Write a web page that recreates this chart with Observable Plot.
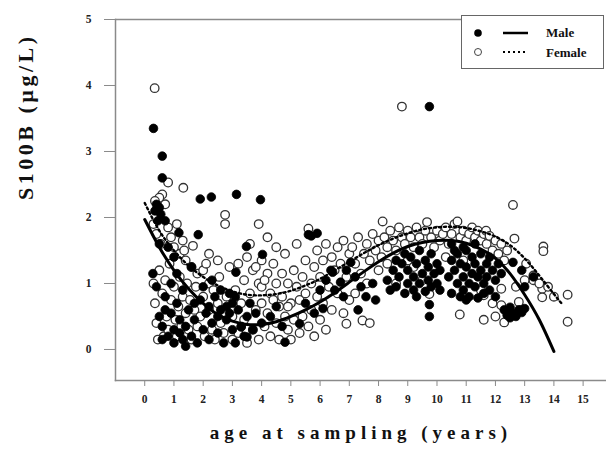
<!DOCTYPE html>
<html><head><meta charset="utf-8">
<script src="https://cdn.jsdelivr.net/npm/d3@7"></script>
<script src="https://cdn.jsdelivr.net/npm/@observablehq/plot@0.6"></script>
<style>
body{margin:0;background:#fff;}
#wrap{position:relative;width:606px;height:452px;}
#legend{position:absolute;left:461px;top:15px;width:143px;height:54px;border:1.5px solid #666;box-sizing:border-box;background:#fff;}
</style></head><body><div id="wrap"></div>
<script>
const xTicks = [0,1,2,3,4,5,6,7,8,9,10,11,12,13,14,15];
const yTicks = [0,1,2,3,4,5];
const seriesNames = ["Male","Female"];

const maleSamples = [
[0.3,3.35],[0.6,2.93],[0.6,2.6],[0.4,2.2],[0.5,2.15],[0.35,2.1],[0.55,2.05],[0.45,1.95],[0.7,1.95],[1.9,2.28],[2.28,2.31],[3.14,2.35],[3.96,2.27],[1.17,1.77],[1.83,1.74],[3.48,1.56],[4.03,1.44],[0.28,1.15],[3.12,1.17],[0.5,1.6],[0.8,1.55],[1.0,1.4],
[0.4,0.95],[0.5,0.5],[0.6,0.35],[0.7,0.8],[0.8,0.2],[0.9,0.55],[1.0,0.3],[1.0,0.1],[1.1,0.7],[1.2,0.45],[1.3,0.15],[1.3,0.9],[1.4,0.35],[1.5,0.6],[1.6,0.2],[1.7,0.45],[1.8,0.1],[1.9,0.75],[2.0,0.3],[2.1,0.55],[2.2,0.15],[2.3,0.4],[2.4,0.8],[2.5,0.25],[2.6,0.6],[2.7,0.1],[2.8,0.45],[2.9,0.85],[3.0,0.3],[3.1,0.1],[3.2,0.6],[3.3,0.35],[3.4,0.2],[3.5,0.5],[3.6,0.7],[3.7,0.3],[3.8,0.55],[4.0,0.4],[4.3,0.5],[4.5,0.65],[4.7,0.35],[4.8,0.11],[5.3,0.39],[3.3,0.34],[3.5,0.19],[0.7,0.6],[0.9,1.0],[1.1,1.15],[1.6,1.25],[2.0,0.95],[2.3,1.05],[2.6,0.9],[1.4,0.05],[2.9,0.55],[3.0,0.7],[2.8,0.65],[3.1,0.8],[1.2,0.25],[0.6,0.15],[1.7,0.7],[2.2,0.65],[2.5,0.5],
[5.6,1.74],[5.9,1.76],[5.7,1.72],[6.37,1.2],[6.7,1.02],[6.8,0.8],[7.57,0.8],[6.43,1.17],[7.05,1.32],[6.0,0.9],[6.2,1.05],[5.5,0.7],[5.8,0.55],[6.5,0.9],[7.2,1.1],[7.4,0.95],[7.8,1.0],[7.9,0.75],[6.9,1.2],[7.3,0.6],[6.1,0.62],
[8.3,1.05],[8.4,0.9],[8.5,1.2],[8.6,0.95],[8.7,1.1],[8.8,1.3],[8.9,0.85],[9.0,1.0],[9.0,1.2],[9.1,1.4],[9.2,0.9],[9.2,1.1],[9.3,1.3],[9.4,1.0],[9.4,1.5],[9.5,1.15],[9.6,0.88],[9.6,1.35],[9.7,1.05],[9.7,1.25],[9.8,0.95],[9.8,1.45],[9.9,1.15],[10.0,1.3],[10.0,1.0],[10.1,1.2],[8.6,1.35],[8.9,1.45],[9.3,0.8],[9.74,0.68],[9.74,0.5],[10.1,0.9],[9.74,3.68],
[10.4,1.1],[10.5,1.35],[10.5,0.85],[10.6,1.2],[10.7,1.0],[10.7,1.45],[10.8,0.8],[10.8,1.3],[10.9,1.1],[10.9,0.9],[11.0,1.25],[11.0,1.5],[11.1,1.0],[11.1,0.8],[11.2,1.15],[11.2,1.4],[11.3,0.95],[11.3,1.3],[11.4,1.1],[11.4,0.78],[11.5,1.2],[11.5,1.45],[11.6,1.0],[11.6,0.85],[11.7,1.3],[11.7,1.1],[11.8,0.9],[11.8,1.4],[11.9,1.2],[12.0,1.05],[12.0,0.8],[12.1,1.3],[10.6,1.5],[10.9,1.55],[11.3,1.6],[12.2,1.15],[11.0,0.75],[10.5,1.6],
[12.3,0.6],[12.4,0.52],[12.5,0.64],[12.6,0.55],[12.7,0.5],[12.8,0.6],[12.9,0.56],[13.0,0.62],[12.5,0.48],[12.6,1.32],[13.3,1.1],[12.9,1.2],[13.0,0.95]
];

const femaleSamples = [
[0.34,3.96],[1.32,2.45],[0.8,2.53],[0.6,2.35],[0.5,2.3],[0.35,2.25],[0.7,2.2],[2.75,2.04],[2.75,1.9],[1.65,1.57],[0.3,1.9],[0.4,1.75],[0.55,1.6],[0.9,1.7],[1.0,1.55],[1.2,1.45],[1.4,1.35],[1.6,1.25],[1.8,1.15],[2.0,1.2],[2.2,1.0],[0.8,1.85],[1.1,1.9],[1.3,1.65],
[0.3,1.0],[0.35,0.7],[0.4,0.4],[0.5,1.2],[0.6,0.85],[0.65,0.2],[0.7,1.05],[0.75,0.5],[0.8,0.3],[0.85,1.3],[0.9,0.75],[1.0,0.95],[1.05,0.45],[1.1,0.2],[1.15,0.65],[1.2,1.1],[1.25,0.35],[1.3,0.8],[1.4,0.55],[1.45,1.0],[1.5,0.3],[1.55,0.75],[1.6,0.15],[1.7,0.6],[1.75,0.95],[1.8,0.35],[1.9,0.5],[2.0,0.8],[2.05,0.2],[2.1,1.3],[2.2,0.6],[2.3,0.3],[2.35,0.9],[2.4,0.15],[2.5,0.7],[2.55,1.1],[2.6,0.4],[2.7,0.25],[2.8,0.8],[2.9,1.25],[3.0,0.5],[3.0,0.15],[2.2,1.45],[2.5,1.35],[0.45,0.15],[1.35,1.5],
[3.1,0.9],[3.2,1.3],[3.2,0.25],[3.3,0.7],[3.4,1.05],[3.4,0.45],[3.5,1.4],[3.5,0.1],[3.6,0.85],[3.7,0.3],[3.7,1.2],[3.8,0.6],[3.9,1.0],[3.9,0.15],[4.0,1.35],[4.0,0.7],[4.1,0.35],[4.2,1.15],[4.2,0.55],[4.3,0.85],[4.3,0.2],[4.4,1.3],[4.5,0.4],[4.5,1.0],[4.6,0.65],[4.6,0.15],[4.7,1.15],[4.7,0.8],[4.8,0.5],[4.8,1.45],[4.9,0.3],[4.9,1.0],[5.0,0.7],[5.0,0.15],[5.1,1.2],[5.1,0.45],[5.2,0.95],[5.2,1.6],[5.3,0.25],[5.3,0.75],[5.4,1.1],[5.4,0.5],[5.5,1.35],[5.5,0.85],[5.6,1.83],[5.6,0.35],[5.7,1.0],[5.7,0.6],[5.8,1.25],[5.8,0.2],[5.9,0.8],[5.9,1.5],[6.0,1.1],[6.0,0.45],[6.1,1.35],[6.1,0.7],[6.2,0.3],[6.2,1.6],[6.3,0.95],[6.4,1.4],[6.4,0.6],[6.5,1.2],[6.6,1.55],[6.6,0.85],[6.7,1.3],[6.8,1.65],[6.9,0.39],[6.9,1.1],[7.0,1.45],[3.6,1.6],[4.2,1.7],[3.9,1.9],[4.5,1.55],[4.0,0.95],[4.4,0.75],[4.9,0.65],[3.8,1.25],[4.1,1.05],
[7.1,1.55],[7.2,1.3],[7.3,1.7],[7.45,0.44],[7.5,1.45],[7.6,1.6],[7.7,0.4],[7.7,1.35],[7.8,1.75],[7.9,1.5],[8.0,1.65],[8.14,1.94],[8.1,1.4],[8.2,1.7],[8.3,1.55],[8.4,1.8],[8.5,1.65],[8.6,1.5],[8.7,1.85],[8.8,3.68],[8.8,1.7],[8.9,1.6],[9.0,1.8],[9.1,1.7],[9.2,1.55],[9.3,1.85],[9.4,1.7],[9.5,1.6],[9.6,1.8],[9.66,1.93],[9.74,0.84],[9.8,1.7],[9.9,1.55],[10.0,1.8],[10.1,1.65],[7.4,1.15],[7.6,1.0],[8.0,1.2],[8.3,1.3],[8.6,1.0],[9.0,1.35],[9.2,1.25],[9.5,1.05],[7.2,0.85],[7.0,0.75],[6.8,0.55],
[10.2,1.75],[10.3,1.85],[10.4,1.6],[10.5,1.75],[10.6,1.9],[10.7,1.94],[10.78,0.53],[10.8,1.7],[10.9,1.8],[11.0,1.65],[11.1,1.75],[11.2,1.85],[11.3,1.7],[11.4,1.8],[11.5,1.65],[11.6,0.45],[11.6,1.75],[11.7,1.6],[11.68,1.8],[11.8,1.72],[11.9,1.5],[12.0,1.65],[12.1,1.45],[12.2,1.6],[12.3,1.35],[12.4,1.5],[12.6,2.19],[11.5,0.9],[11.9,0.7],[10.3,1.4],[10.9,1.35],[12.0,0.5],[11.6,0.82],[12.2,0.92],[12.2,0.67],[12.3,0.41],
[12.65,1.68],[13.05,1.3],[13.3,1.12],[13.3,1.05],[12.8,0.72],[12.7,0.95],[13.0,1.05],[13.6,0.92],[13.6,0.79],[13.5,1.0],[13.64,1.56],[13.64,1.49],[13.8,0.95],[14.0,0.8],[14.47,0.83],[14.47,0.42],[12.9,0.6]
];

const maleCurve = [[0,1.97],[0.5,1.55],[1,1.2],[1.5,0.92],[2,0.7],[2.5,0.53],[3,0.43],[3.5,0.38],[4,0.38],[4.5,0.42],[5,0.5],[5.5,0.6],[6,0.72],[6.5,0.86],[7,1.02],[7.5,1.18],[8,1.33],[8.5,1.46],[9,1.56],[9.5,1.62],[10,1.65],[10.5,1.65],[11,1.61],[11.5,1.52],[12,1.38],[12.5,1.15],[13,0.83],[13.5,0.45],[14,-0.03]];
const femaleCurve = [[0,2.22],[0.5,1.8],[1,1.5],[1.5,1.27],[2,1.1],[2.5,0.97],[3,0.88],[3.5,0.83],[4,0.82],[4.5,0.84],[5,0.89],[5.5,0.97],[6,1.07],[6.5,1.2],[7,1.33],[7.5,1.46],[8,1.58],[8.5,1.68],[9,1.76],[9.5,1.82],[10,1.85],[10.5,1.86],[11,1.84],[11.5,1.79],[12,1.71],[12.5,1.58],[13,1.38],[13.5,1.12],[14,0.84],[14.3,0.68]];

const serif = "'Liberation Serif', 'Times New Roman', serif";
const axisGray = "#8a8a8a";

const chart = Plot.plot({
  width: 606, height: 452,
  marginLeft: 115, marginRight: 0, marginTop: 19, marginBottom: 72,
  style: {fontFamily: serif, background: "#fff"},
  x: {domain: [-1, 15.8], ticks: xTicks, label: null},
  y: {domain: [-0.47, 5], ticks: yTicks, label: null},
  marks: [
    Plot.ruleY([5], {x1: -1, x2: 10.86, stroke: axisGray, strokeWidth: 1.5}),
    Plot.frame({anchor: "left", stroke: axisGray, strokeWidth: 1.5}),
    Plot.frame({anchor: "bottom", stroke: axisGray, strokeWidth: 1.5}),
    Plot.axisY({ticks: yTicks, tickSize: 11, tickPadding: 13, stroke: axisGray, fontSize: 11.5, fontWeight: "bold", label: null, tickFormat: d => String(d), color: "#222"}),
    Plot.axisX({ticks: xTicks, tickSize: 6, tickPadding: 8, stroke: axisGray, fontSize: 11.5, fontWeight: "bold", label: null, tickFormat: d => String(d), color: "#222"}),
    Plot.dot(femaleSamples, {x: d => d[0], y: d => d[1], r: 4.3, fill: "white", stroke: "#333", strokeWidth: 1.3}),
    Plot.dot(maleSamples, {x: d => d[0], y: d => d[1], r: 4.3, fill: "black", stroke: "black", strokeWidth: 0.8}),
    Plot.line(maleCurve, {x: d => d[0], y: d => d[1], stroke: "black", strokeWidth: 3, curve: "natural"}),
    Plot.line(femaleCurve, {x: d => d[0], y: d => d[1], stroke: "black", strokeWidth: 2.4, strokeDasharray: "2,3", curve: "natural"}),
    Plot.text(["S100B (µg/L)"], {frameAnchor: "left", dx: -90, dy: 0, rotate: -90, fontSize: 22, fontWeight: "bold", fill: "#111"}),
    Plot.text(["age at sampling (years)"], {frameAnchor: "bottom", dy: 58, fontSize: 19, fontWeight: "bold", fill: "#111"})
  ]
});

d3.select(chart).selectAll("text").filter(function(){ return this.textContent === "S100B (µg/L)"; }).attr("letter-spacing", "3.5px");
d3.select(chart).selectAll("text").filter(function(){ return this.textContent === "age at sampling (years)"; }).attr("letter-spacing", "5px");

const wrap = document.getElementById("wrap");
wrap.appendChild(chart);

const legend = document.createElement("div");
legend.id = "legend";
legend.innerHTML = `<svg width="140" height="51" style="font-family:${serif};font-weight:bold;font-size:13px">
  <circle cx="16" cy="17" r="3.8" fill="black"/>
  <line x1="41" x2="66" y1="17" y2="17" stroke="black" stroke-width="2.5"/>
  <text x="84" y="21" fill="#111">${seriesNames[0]}</text>
  <circle cx="16" cy="36" r="3.5" fill="white" stroke="#444" stroke-width="1"/>
  <line x1="41" x2="66" y1="36" y2="36" stroke="black" stroke-width="2.2" stroke-dasharray="2,3"/>
  <text x="84" y="41" fill="#111">${seriesNames[1]}</text>
</svg>`;
wrap.appendChild(legend);
</script></body></html>
